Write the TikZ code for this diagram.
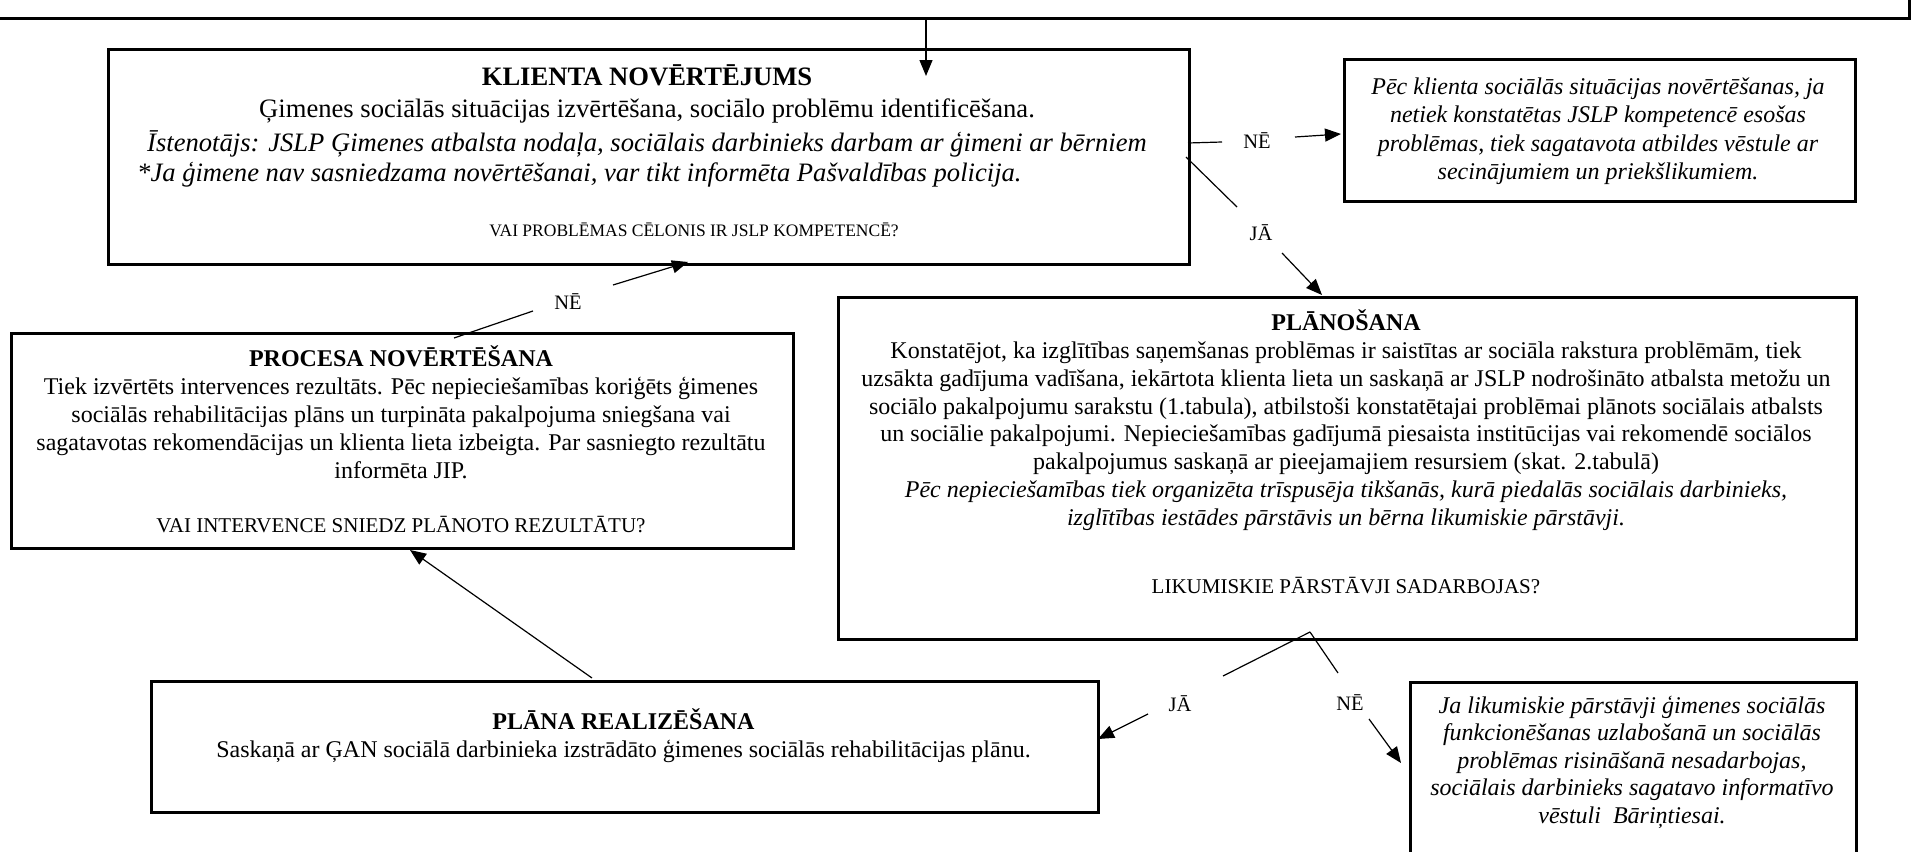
\documentclass[tikz,border=0pt]{standalone}
\usepackage{fontspec}
\setmainfont{Liberation Serif}
\usetikzlibrary{arrows.meta}
\begin{document}
\begin{tikzpicture}[x=1bp, y=-1bp,
  box/.style={draw, line width=2.6bp, inner sep=0pt, anchor=north west},
  con/.style={line width=1.2bp},
  arr/.style={line width=1.2bp, -{Triangle[length=16bp,width=13bp]}},
  ln/.style={anchor=base, inner sep=0pt},
  big/.style={font=\fontsize{26.6bp}{30bp}\selectfont},
  body/.style={font=\fontsize{24bp}{28bp}\selectfont},
  qa/.style={font=\fontsize{17.5bp}{20bp}\selectfont},
  qb/.style={font=\fontsize{21bp}{24bp}\selectfont},
  lab/.style={font=\fontsize{20.5bp}{24bp}\selectfont, anchor=base, inner sep=0pt}]
\useasboundingbox (0,0) rectangle (1912,852);

% boxes
\node[box, minimum width=1918bp, minimum height=117bp] (top) at (-10,-100) {};
\node[box, minimum width=1081bp, minimum height=215bp] (klienta) at (107,48) {};
\node[box, minimum width=511bp, minimum height=142bp] (pecne) at (1343,58) {};
\node[box, minimum width=1018bp, minimum height=342bp] (plan) at (837,296) {};
\node[box, minimum width=782bp, minimum height=215bp] (procesa) at (10,332) {};
\node[box, minimum width=947bp, minimum height=131bp] (real) at (150,680) {};
\node[box, minimum width=446bp, minimum height=220bp] (bari) at (1409,681) {};

% KLIENTA text
\node[ln, big] (k1) at (647,85) {\bfseries KLIENTA NOVĒRTĒJUMS};
\node[ln, big] (k2) at (647,117) {Ģimenes sociālās situācijas izvērtēšana, sociālo problēmu identificēšana.};
\node[ln, big] (k3) at (647,151) {\itshape Īstenotājs: JSLP Ģimenes atbalsta nodaļa, sociālais darbinieks darbam ar ģimeni ar bērniem};
\node[ln, big, anchor=base west] (k4) at (137,181) {\itshape *Ja ģimene nav sasniedzama novērtēšanai, var tikt informēta Pašvaldības policija.};
\node[ln, qa] (k5) at (694,236) {VAI PROBLĒMAS CĒLONIS IR JSLP KOMPETENCĒ?};

% top right box text
\node[ln, body] (p1) at (1598,94) {\itshape Pēc klienta sociālās situācijas novērtēšanas, ja};
\node[ln, body] (p2) at (1598,122) {\itshape netiek konstatētas JSLP kompetencē esošas};
\node[ln, body] (p3) at (1598,151) {\itshape problēmas, tiek sagatavota atbildes vēstule ar};
\node[ln, body] (p4) at (1598,179) {\itshape secinājumiem un priekšlikumiem.};

% PLANOSANA text
\node[ln, body] (s0) at (1346,330) {\bfseries PLĀNOŠANA};
\node[ln, body] (s1) at (1346,358) {Konstatējot, ka izglītības saņemšanas problēmas ir saistītas ar sociāla rakstura problēmām, tiek};
\node[ln, body] (s2) at (1346,386) {uzsākta gadījuma vadīšana, iekārtota klienta lieta un saskaņā ar JSLP nodrošināto atbalsta metožu un};
\node[ln, body] (s3) at (1346,414) {sociālo pakalpojumu sarakstu (1.tabula), atbilstoši konstatētajai problēmai plānots sociālais atbalsts};
\node[ln, body] (s4) at (1346,441.5) {un sociālie pakalpojumi. Nepieciešamības gadījumā piesaista institūcijas vai rekomendē sociālos};
\node[ln, body] (s5) at (1346,469) {pakalpojumus saskaņā ar pieejamajiem resursiem (skat. 2.tabulā)};
\node[ln, body] (s6) at (1346,497.5) {\itshape Pēc nepieciešamības tiek organizēta trīspusēja tikšanās, kurā piedalās sociālais darbinieks,};
\node[ln, body] (s7) at (1346,525) {\itshape izglītības iestādes pārstāvis un bērna likumiskie pārstāvji.};
\node[ln, qb] (s8) at (1346,593) {LIKUMISKIE PĀRSTĀVJI SADARBOJAS?};

% PROCESA text
\node[ln, body] (r0) at (401,366) {\bfseries PROCESA NOVĒRTĒŠANA};
\node[ln, body] (r1) at (401,394) {Tiek izvērtēts intervences rezultāts. Pēc nepieciešamības koriģēts ģimenes};
\node[ln, body] (r2) at (401,422) {sociālās rehabilitācijas plāns un turpināta pakalpojuma sniegšana vai};
\node[ln, body] (r3) at (401,450) {sagatavotas rekomendācijas un klienta lieta izbeigta. Par sasniegto rezultātu};
\node[ln, body] (r4) at (401,478) {informēta JIP.};
\node[ln, qb] (r5) at (401,532) {VAI INTERVENCE SNIEDZ PLĀNOTO REZULTĀTU?};

% PLANA REALIZESANA text
\node[ln, body] (e0) at (623.5,729) {\bfseries PLĀNA REALIZĒŠANA};
\node[ln, body] (e1) at (623.5,757) {Saskaņā ar ĢAN sociālā darbinieka izstrādāto ģimenes sociālās rehabilitācijas plānu.};

% bottom right text
\node[ln, body] (b1) at (1632,713) {\itshape Ja likumiskie pārstāvji ģimenes sociālās};
\node[ln, body] (b2) at (1632,740.5) {\itshape funkcionēšanas uzlabošanā un sociālās};
\node[ln, body] (b3) at (1632,768) {\itshape problēmas risināšanā nesadarbojas,};
\node[ln, body] (b4) at (1632,795.5) {\itshape sociālais darbinieks sagatavo informatīvo};
\node[ln, body] (b5) at (1632,823) {\itshape vēstuli\ \ Bāriņtiesai.};

% labels
\node[lab] (ne1) at (1257,148) {NĒ};
\node[lab] (ja1) at (1261,240) {JĀ};
\node[lab] (ne2) at (568,309) {NĒ};
\node[lab] (ja2) at (1180,711) {JĀ};
\node[lab] (ne3) at (1350,710) {NĒ};

% connector points
\coordinate (kin) at (926,76);
\coordinate (a1) at (1188,143); \coordinate (a2) at (1222,142);
\coordinate (a3) at (1295,137); \coordinate (a4) at (1341,134);
\coordinate (b1s) at (1186,157); \coordinate (b1e) at (1237,207);
\coordinate (b2s) at (1282,253); \coordinate (b2e) at (1322,295);
\coordinate (c1s) at (454,338); \coordinate (c1e) at (533,311);
\coordinate (c2s) at (613,285); \coordinate (c2e) at (688,262);
\coordinate (d1s) at (592,678); \coordinate (d1e) at (410,550);
\coordinate (apex) at (1310,632);
\coordinate (j1e) at (1223,676); \coordinate (j2s) at (1148,714); \coordinate (j2e) at (1098,739);
\coordinate (n1e) at (1338,673); \coordinate (n2s) at (1369,719); \coordinate (n2e) at (1401,763);

% connectors
\draw[arr] (top.south -| kin) -- (kin);
\draw[con] (a1) -- (a2);
\draw[arr] (a3) -- (a4);
\draw[con] (b1s) -- (b1e);
\draw[arr] (b2s) -- (b2e);
\draw[con] (c1s) -- (c1e);
\draw[arr] (c2s) -- (c2e);
\draw[arr] (d1s) -- (d1e);
\draw[con] (apex) -- (j1e);
\draw[arr] (j2s) -- (j2e);
\draw[con] (apex) -- (n1e);
\draw[arr] (n2s) -- (n2e);
\end{tikzpicture}
\end{document}
